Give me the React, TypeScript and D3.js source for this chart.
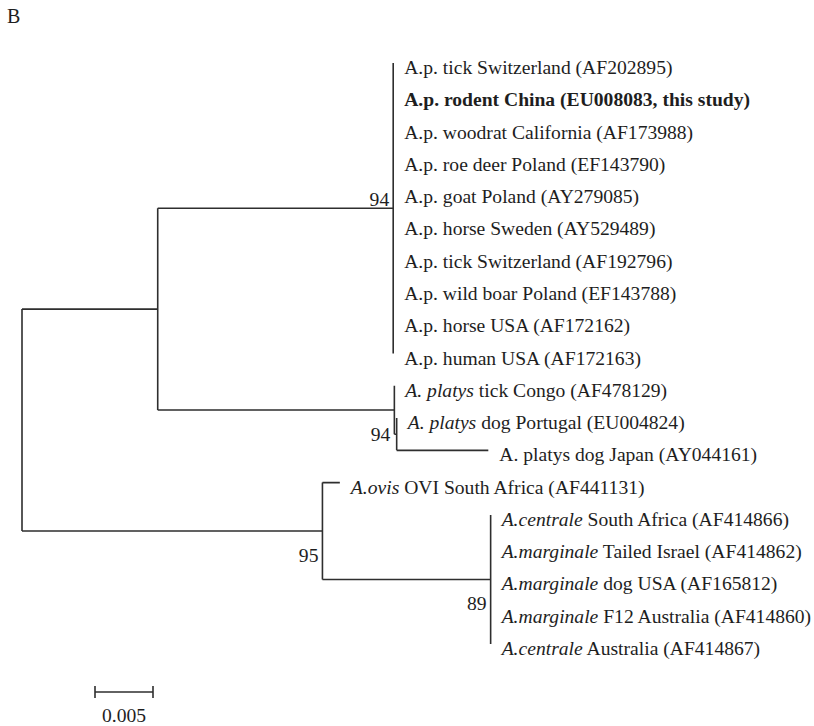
import * as d3 from "d3";

// taxa, top to bottom; [italic part, plain part]
const apTaxa = [
  "A.p. tick Switzerland (AF202895)",
  "A.p. rodent China (EU008083, this study)",
  "A.p. woodrat California (AF173988)",
  "A.p. roe deer Poland (EF143790)",
  "A.p. goat Poland (AY279085)",
  "A.p. horse Sweden (AY529489)",
  "A.p. tick Switzerland (AF192796)",
  "A.p. wild boar Poland (EF143788)",
  "A.p. horse USA (AF172162)",
  "A.p. human USA (AF172163)",
];
const boldTaxon = "A.p. rodent China (EU008083, this study)";

const platysTaxa = [
  ["A. platys", " tick Congo (AF478129)"],
  ["A. platys", " dog Portugal (EU004824)"],
  ["", "A. platys dog Japan (AY044161)"],
];
const ovisTaxon = ["A.ovis", " OVI South Africa (AF441131)"];
const marginaleTaxa = [
  ["A.centrale", " South Africa (AF414866)"],
  ["A.marginale", " Tailed Israel (AF414862)"],
  ["A.marginale", " dog USA (AF165812)"],
  ["A.marginale", " F12 Australia (AF414860)"],
  ["A.centrale", " Australia (AF414867)"],
];

// branch lengths (substitutions per site)
const lenApPlatys = 0.0117;
const lenAp = 0.0203;
const lenPlatys = 0.0204;
const lenPlatysInner = 0.0002;
const lenJapan = 0.0079;
const lenOvisGroup = 0.0259;
const lenOvis = 0.0015;
const lenMarginale = 0.0145;

// bootstrap support
const supportAp = 94;
const supportPlatys = 94;
const supportOvisGroup = 95;
const supportMarginale = 89;

const scaleBarValue = 0.005;

type Node = {
  parts?: string[];
  len: number;
  support?: number;
  above?: boolean;
  children?: Node[];
};

const leaf = (parts: string[], len = 0): Node => ({ parts, len });

const treeData: Node = {
  len: 0,
  children: [
    {
      len: lenApPlatys,
      children: [
        {
          len: lenAp,
          support: supportAp,
          above: true,
          children: apTaxa.map((t) => leaf(["", t])),
        },
        {
          len: lenPlatys,
          support: supportPlatys,
          children: [
            leaf(platysTaxa[0]),
            {
              len: lenPlatysInner,
              children: [leaf(platysTaxa[1]), leaf(platysTaxa[2], lenJapan)],
            },
          ],
        },
      ],
    },
    {
      len: lenOvisGroup,
      support: supportOvisGroup,
      children: [
        leaf(ovisTaxon, lenOvis),
        {
          len: lenMarginale,
          support: supportMarginale,
          children: marginaleTaxa.map((t) => leaf(t)),
        },
      ],
    },
  ],
};

const W = 814;
const H = 726;
const font = "'Liberation Serif', 'Times New Roman', serif";
const fs = 19.6;
const ink = "#1e1e1e";
const lineColor = "#2e2e2e";

export default function App() {
  const root = d3.hierarchy<Node>(treeData);
  // cumulative distance from root
  root.each((d: any) => {
    d.dist = (d.parent ? d.parent.dist : 0) + d.data.len;
  });
  const leaves = root.leaves();
  const x = d3.scaleLinear().domain([0, 0.05]).range([22, 22 + 0.05 * 11600]);
  const y = d3.scaleLinear().domain([0, leaves.length - 1]).range([63, 644]);
  leaves.forEach((d: any, i) => (d.py = y(i)));
  root.eachAfter((d: any) => {
    if (d.children) {
      d.py = (d.children[0].py + d.children[d.children.length - 1].py) / 2;
    }
  });

  const segs: string[] = [];
  root.each((d: any) => {
    const px = x(d.dist);
    if (d.parent) segs.push(`M${x(d.parent.dist)},${d.py}H${px}`);
    if (d.children) {
      const c = d.children;
      segs.push(`M${px},${c[0].py}V${c[c.length - 1].py}`);
    }
  });

  const internals = root.descendants().filter((d: any) => d.data.support);
  const barX0 = 95;
  const barX1 = barX0 + x(scaleBarValue) - x(0);

  return (
    <svg
      width={W}
      height={H}
      style={{ position: "absolute", left: 0, top: 0, background: "#fff" }}
      fontFamily={font}
    >
      <text x={7} y={23} fontSize={20} fill={ink}>
        B
      </text>
      <path d={segs.join("")} stroke={lineColor} strokeWidth={1.6} fill="none" />
      {leaves.map((d: any, i) => {
        const [it, rest] = d.data.parts;
        const bold = rest === boldTaxon;
        return (
          <text
            key={i}
            x={x(d.dist) + 11}
            y={d.py + 11}
            fontSize={fs}
            fill={ink}
            fontWeight={bold ? "bold" : "normal"}
          >
            {it && <tspan fontStyle="italic">{it}</tspan>}
            <tspan>{rest}</tspan>
          </text>
        );
      })}
      {internals.map((d: any, i) => (
        <text
          key={i}
          x={x(d.dist) - 4}
          y={d.data.above ? d.py - 2 : d.py + 31}
          textAnchor="end"
          fontSize={fs}
          fill={ink}
        >
          {d.data.support}
        </text>
      ))}
      <g stroke={lineColor} strokeWidth={1.6}>
        <line x1={barX0} x2={barX1} y1={692} y2={692} />
        <line x1={barX0} x2={barX0} y1={686} y2={698} />
        <line x1={barX1} x2={barX1} y1={686} y2={698} />
      </g>
      <text x={(barX0 + barX1) / 2} y={722} textAnchor="middle" fontSize={fs} fill={ink}>
        {scaleBarValue}
      </text>
    </svg>
  );
}
